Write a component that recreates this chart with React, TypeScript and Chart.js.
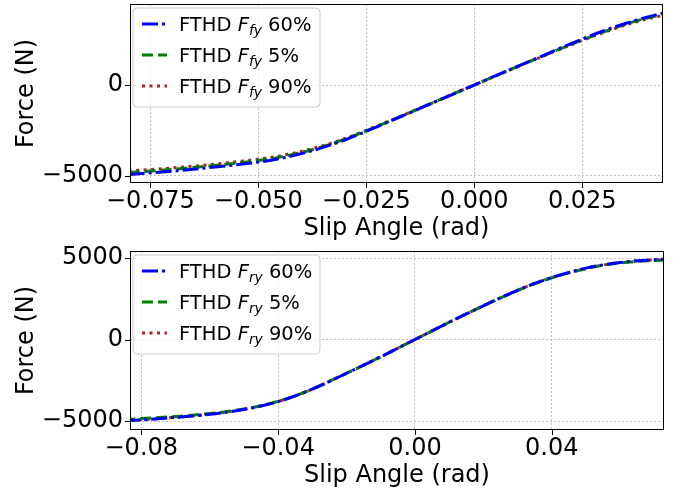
import React, { useEffect, useRef } from 'react';
import { Chart, registerables } from 'chart.js';
Chart.register(...registerables);

// ---------- data ----------
const topSlip = [-0.08, -0.075, -0.07, -0.065, -0.06, -0.055, -0.05, -0.045, -0.04, -0.035, -0.03, -0.025, -0.02, -0.015, -0.01, -0.005, 0, 0.005, 0.01, 0.015, 0.02, 0.025, 0.03, 0.035, 0.04, 0.044];
const topF60 = [-4930, -4845, -4750, -4640, -4520, -4390, -4250, -4050, -3780, -3440, -3030, -2550, -2050, -1540, -1025, -510, 0, 515, 1025, 1530, 2040, 2530, 2990, 3390, 3740, 3990];
const topF5 = [-4820, -4740, -4650, -4545, -4430, -4300, -4160, -3975, -3715, -3390, -2995, -2525, -2035, -1530, -1020, -505, 0, 510, 1015, 1515, 2005, 2480, 2935, 3350, 3690, 3920];
const topF90 = [-4740, -4660, -4570, -4470, -4355, -4225, -4085, -3905, -3655, -3340, -2955, -2495, -2015, -1515, -1010, -500, 0, 505, 1005, 1500, 1985, 2455, 2900, 3305, 3640, 3850];

const botSlip = [-0.085, -0.08, -0.075, -0.07, -0.065, -0.06, -0.055, -0.05, -0.045, -0.04, -0.035, -0.03, -0.025, -0.02, -0.015, -0.01, -0.005, 0, 0.005, 0.01, 0.015, 0.02, 0.025, 0.03, 0.035, 0.04, 0.045, 0.05, 0.055, 0.06, 0.065, 0.07, 0.073];
const botF60 = [-4990, -4930, -4860, -4780, -4690, -4590, -4460, -4290, -4080, -3810, -3460, -3040, -2570, -2070, -1570, -1060, -530, 0, 530, 1060, 1570, 2070, 2560, 3020, 3440, 3800, 4110, 4380, 4580, 4730, 4830, 4900, 4930];
const botF5 = [-4900, -4850, -4790, -4720, -4640, -4540, -4420, -4260, -4060, -3790, -3450, -3030, -2560, -2070, -1570, -1060, -530, 0, 530, 1060, 1570, 2070, 2550, 3010, 3430, 3790, 4090, 4350, 4550, 4700, 4790, 4850, 4870];
const botF90 = [-4970, -4920, -4850, -4770, -4680, -4580, -4450, -4280, -4070, -3800, -3460, -3040, -2570, -2070, -1570, -1060, -530, 0, 530, 1060, 1570, 2070, 2560, 3020, 3440, 3800, 4110, 4370, 4570, 4720, 4820, 4890, 4920];

const topXTicks = [-0.075, -0.05, -0.025, 0, 0.025];
const topXTickLabels = ['\u22120.075', '\u22120.050', '\u22120.025', '0.000', '0.025'];
const topYTicks = [-5000, 0];
const topYTickLabels = ['\u22125000', '0'];
const botXTicks = [-0.08, -0.04, 0, 0.04];
const botXTickLabels = ['\u22120.08', '\u22120.04', '0.00', '0.04'];
const botYTicks = [-5000, 0, 5000];
const botYTickLabels = ['\u22125000', '0', '5000'];

const seriesPrefix = 'FTHD';
const seriesSymbol = 'F';
const topSub = 'fy';
const botSub = 'ry';
const seriesPercents = ['60%', '5%', '90%'];
const seriesColors = ['#0000ff', '#008000', '#b22222'];
const seriesDashes = [[16, 4, 3, 4], [11, 5], [3, 4.5]];

const xTitle = 'Slip Angle (rad)';
const yTitle = 'Force (N)';

const FONT = 'DejaVu Sans';

type PanelCfg = {
  slip: number[];
  series: number[][];
  xMin: number; xMax: number; yMin: number; yMax: number;
  xTicks: number[]; xLabels: string[];
  yTicks: number[]; yLabels: string[];
  sub: string;
  padTop: number; padRight: number; xAxisH: number; titlePadBottom: number;
  height: number;
};

function makeLegendPlugin(sub: string) {
  return {
    id: 'customLegend',
    afterDraw(chart: any) {
      const { ctx, chartArea } = chart;
      const x0 = chartArea.left + 3;
      const y0 = chartArea.top + 4;
      const w = 187, h = 99, r = 4;
      ctx.save();
      ctx.beginPath();
      ctx.moveTo(x0 + r, y0);
      ctx.lineTo(x0 + w - r, y0);
      ctx.quadraticCurveTo(x0 + w, y0, x0 + w, y0 + r);
      ctx.lineTo(x0 + w, y0 + h - r);
      ctx.quadraticCurveTo(x0 + w, y0 + h, x0 + w - r, y0 + h);
      ctx.lineTo(x0 + r, y0 + h);
      ctx.quadraticCurveTo(x0, y0 + h, x0, y0 + h - r);
      ctx.lineTo(x0, y0 + r);
      ctx.quadraticCurveTo(x0, y0, x0 + r, y0);
      ctx.closePath();
      ctx.fillStyle = 'rgba(255,255,255,0.8)';
      ctx.fill();
      ctx.strokeStyle = '#cccccc';
      ctx.lineWidth = 1;
      ctx.stroke();
      for (let i = 0; i < seriesPercents.length; i++) {
        const cy = y0 + 16 + i * 31;
        ctx.beginPath();
        ctx.setLineDash(seriesDashes[i]);
        ctx.strokeStyle = seriesColors[i];
        ctx.lineWidth = 3;
        ctx.moveTo(x0 + 9, cy);
        ctx.lineTo(x0 + 34, cy);
        ctx.stroke();
        ctx.setLineDash([]);
        ctx.fillStyle = '#000';
        ctx.textBaseline = 'alphabetic';
        ctx.textAlign = 'left';
        const base = cy + 7;
        let tx = x0 + 46;
        ctx.font = `19.5px "${FONT}"`;
        const pre = seriesPrefix + ' ';
        ctx.fillText(pre, tx, base);
        tx += ctx.measureText(pre).width;
        ctx.font = `oblique 19.5px "${FONT}"`;
        ctx.fillText(seriesSymbol, tx, base);
        tx += ctx.measureText(seriesSymbol).width;
        ctx.font = `oblique 13.8px "${FONT}"`;
        ctx.fillText(sub, tx, base + 3.5);
        tx += ctx.measureText(sub).width;
        ctx.font = `19.5px "${FONT}"`;
        ctx.fillText(' ' + seriesPercents[i], tx, base);
      }
      ctx.restore();
    },
  };
}

const framePlugin = {
  id: 'frame',
  afterDatasetsDraw(chart: any) {
    const { ctx, chartArea, scales } = chart;
    const { left, right, top, bottom } = chartArea;
    ctx.save();
    ctx.strokeStyle = '#000';
    ctx.lineWidth = 1;
    ctx.setLineDash([]);
    ctx.strokeRect(Math.round(left) + 0.5, Math.round(top) + 0.5, Math.round(right - left) - 1, Math.round(bottom - top) - 1);
    ctx.beginPath();
    for (const t of scales.x.ticks) {
      const px = Math.round(scales.x.getPixelForValue(t.value)) + 0.5;
      ctx.moveTo(px, bottom);
      ctx.lineTo(px, bottom + 5);
    }
    for (const t of scales.y.ticks) {
      const py = Math.round(scales.y.getPixelForValue(t.value)) + 0.5;
      ctx.moveTo(left, py);
      ctx.lineTo(left - 5, py);
    }
    ctx.stroke();
    ctx.restore();
  },
};

function Panel({ cfg }: { cfg: PanelCfg }) {
  const ref = useRef<HTMLCanvasElement | null>(null);
  useEffect(() => {
    if (!ref.current) return;
    const datasets = cfg.series.map((vals, i) => ({
      label: `${seriesPrefix} ${seriesSymbol}${cfg.sub} ${seriesPercents[i]}`,
      data: cfg.slip.map((x, j) => ({ x, y: vals[j] })),
      borderColor: seriesColors[i],
      backgroundColor: seriesColors[i],
      borderDash: seriesDashes[i],
      borderWidth: 3,
      pointRadius: 0,
      fill: false,
      cubicInterpolationMode: 'monotone' as const,
    }));
    const tickFont = { family: FONT, size: 24, lineHeight: 1 };
    const chart = new Chart(ref.current, {
      type: 'line',
      data: { datasets },
      options: {
        animation: false,
        responsive: false,
        devicePixelRatio: 1,
        layout: { padding: { top: cfg.padTop, right: cfg.padRight, left: 0, bottom: 0 } },
        plugins: { legend: { display: false }, tooltip: { enabled: false } },
        scales: {
          x: {
            type: 'linear',
            min: cfg.xMin,
            max: cfg.xMax,
            afterBuildTicks: (s: any) => { s.ticks = cfg.xTicks.map((v) => ({ value: v })); },
            afterFit: (s: any) => { s.height = cfg.xAxisH; s.paddingLeft = 0; s.paddingRight = 0; s.paddingTop = 0; s.paddingBottom = 0; },
            ticks: {
              font: tickFont,
              color: '#000',
              padding: 6.5,
              maxRotation: 0,
              autoSkip: false,
              callback: (v: any) => { const k = cfg.xTicks.findIndex((t) => Math.abs(t - v) < 1e-9); return k >= 0 ? cfg.xLabels[k] : ''; },
            },
            grid: { color: '#b0b0b0', lineWidth: 0.8, drawTicks: false },
            border: { display: false, dash: [2, 2] },
            title: { display: true, text: xTitle, color: '#000', font: tickFont, padding: { top: 0, bottom: cfg.titlePadBottom } },
          },
          y: {
            type: 'linear',
            min: cfg.yMin,
            max: cfg.yMax,
            afterBuildTicks: (s: any) => { s.ticks = cfg.yTicks.map((v) => ({ value: v })); },
            afterFit: (s: any) => { s.width = 130; s.paddingLeft = 0; s.paddingRight = 0; s.paddingTop = 0; s.paddingBottom = 0; },
            ticks: {
              font: tickFont,
              color: '#000',
              padding: 7,
              autoSkip: false,
              callback: (v: any) => { const k = cfg.yTicks.findIndex((t) => Math.abs(t - v) < 1e-6); return k >= 0 ? cfg.yLabels[k] : ''; },
            },
            grid: { color: '#b0b0b0', lineWidth: 0.8, drawTicks: false },
            border: { display: false, dash: [2, 2] },
            title: { display: true, text: yTitle, color: '#000', font: tickFont, padding: { top: 14.5, bottom: 0 } },
          },
        },
      },
      plugins: [framePlugin, makeLegendPlugin(cfg.sub)],
    });
    return () => chart.destroy();
  }, [cfg]);
  return <canvas ref={ref} width={686} height={cfg.height} style={{ display: 'block', width: 686, height: cfg.height }} />;
}

const topCfg: PanelCfg = {
  slip: topSlip, series: [topF60, topF5, topF90],
  xMin: -0.0797, xMax: 0.0437, yMin: -5400, yMax: 4465,
  xTicks: topXTicks, xLabels: topXTickLabels, yTicks: topYTicks, yLabels: topYTickLabels,
  sub: topSub, padTop: 4, padRight: 23, xAxisH: 62, titlePadBottom: 4, height: 245,
};
const botCfg: PanelCfg = {
  slip: botSlip, series: [botF60, botF5, botF90],
  xMin: -0.0833, xMax: 0.0728, yMin: -5550, yMax: 5430,
  xTicks: botXTicks, xLabels: botXTickLabels, yTicks: botYTicks, yLabels: botYTickLabels,
  sub: botSub, padTop: 6, padRight: 22, xAxisH: 59, titlePadBottom: 1.5, height: 244,
};

export default function App() {
  return (
    <div style={{ position: 'absolute', left: 0, top: 0, width: 686, height: 489, background: '#fff' }}>
      <Panel cfg={topCfg} />
      <Panel cfg={botCfg} />
    </div>
  );
}
